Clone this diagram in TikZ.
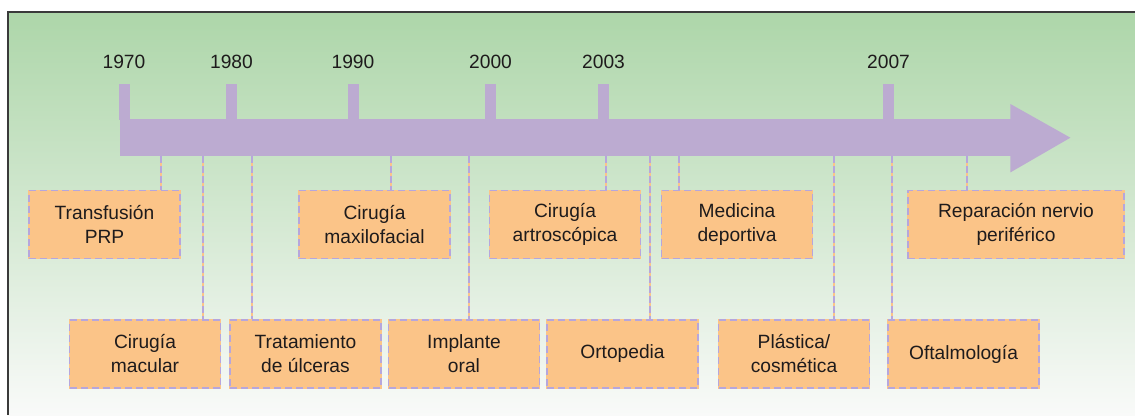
\documentclass[tikz,border=0pt]{standalone}
\usepackage{fontspec}
\setmainfont{Liberation Sans}
\usepackage{xcolor}
\usepackage{tikz}
\usetikzlibrary{positioning}
\definecolor{bggreen}{HTML}{ADD6A9}
\definecolor{bgwhite}{HTML}{F9FAF9}
\definecolor{frameline}{HTML}{3A3A3A}
\definecolor{barpurple}{HTML}{BCABD1}
\definecolor{lavender}{HTML}{B6A6DC}
\definecolor{boxorange}{HTML}{FBC488}
\definecolor{ink}{HTML}{1E1B1C}
\tikzset{
  every node/.style={text=ink},
  labelfont/.style={font=\fontsize{19.2}{24}\selectfont},
  barshaft/.style={fill=barpurple, inner sep=0pt},
  tick/.style={fill=barpurple, inner sep=0pt, minimum width=11pt, minimum height=36pt},
  year/.style={labelfont, inner sep=0pt},
  event/.style={
    labelfont, align=center, fill=boxorange, draw=lavender,
    line width=1.3pt, dash pattern=on 7pt off 4pt,
    preaction={draw=boxorange, solid, line width=1.3pt},
    minimum width=151pt, minimum height=68pt, inner sep=2pt
  },
  link/.style={
    draw=lavender, line width=1.3pt, dash pattern=on 7pt off 3pt,
    preaction={draw=boxorange, solid, line width=1.3pt}
  }
}

\begin{document}
\begin{tikzpicture}[x=1pt,y=-1pt]
  \useasboundingbox (0,0) rectangle (1135,415);
  % frame and background
  \shade[top color=bggreen, bottom color=bgwhite] (8,12) rectangle (1135,415);
  \draw[frameline, line width=1.8pt] (8,415) -- (8,12) -- (1135,12);

  % time axis
  \node[barshaft, anchor=north west, minimum width=891pt, minimum height=37pt] (bar) at (120,119) {};
  \fill[barpurple] ([xshift=-1pt,yshift=15pt]bar.north east) -- ([xshift=59pt]bar.east)
    -- ([xshift=-1pt,yshift=-16pt]bar.south east) -- cycle;
  \foreach \yr/\x in {1970/124,1980/231.5,1990/353,2000/490.5,2003/603.5,2007/888.5} {
    \node[tick, anchor=south] (t\yr) at (\x,120) {};
    \node[year, above=14.5pt of t\yr] (y\yr) {\yr};
  }

  % upper row
  \node[event] (prp) at (104.5,224.5) {Transfusión\\PRP};
  \node[event] (maxi) at (374.5,224.5) {Cirugía\\maxilofacial};
  \node[event] (artro) at (565,224.5) {Cirugía\\artroscópica};
  \node[event] (sport) at (737,224.5) {Medicina\\deportiva};
  \node[event, minimum width=216pt] (nerve) at (1016,224.5) {Reparación nervio\\periférico};

  % lower row
  \node[event] (macula) at (145,354) {Cirugía\\macular};
  \node[event] (ulcer) at (305.5,354) {Tratamiento\\de úlceras};
  \node[event] (oral) at (464,354) {Implante\\oral};
  \node[event] (ortho) at (622.5,354) {Ortopedia};
  \node[event] (plastic) at (794,354) {Plástica/\\cosmética};
  \node[event] (ophth) at (963.5,354) {Oftalmología};

  \foreach \b/\x in {prp/161,macula/203,ulcer/252,maxi/391,oral/469,artro/606,ortho/650,sport/679,plastic/834,ophth/892,nerve/967} {
    \draw[link] (bar.south -| \x,0) -- (\b.north -| \x,0);
  }
\end{tikzpicture}
\end{document}
